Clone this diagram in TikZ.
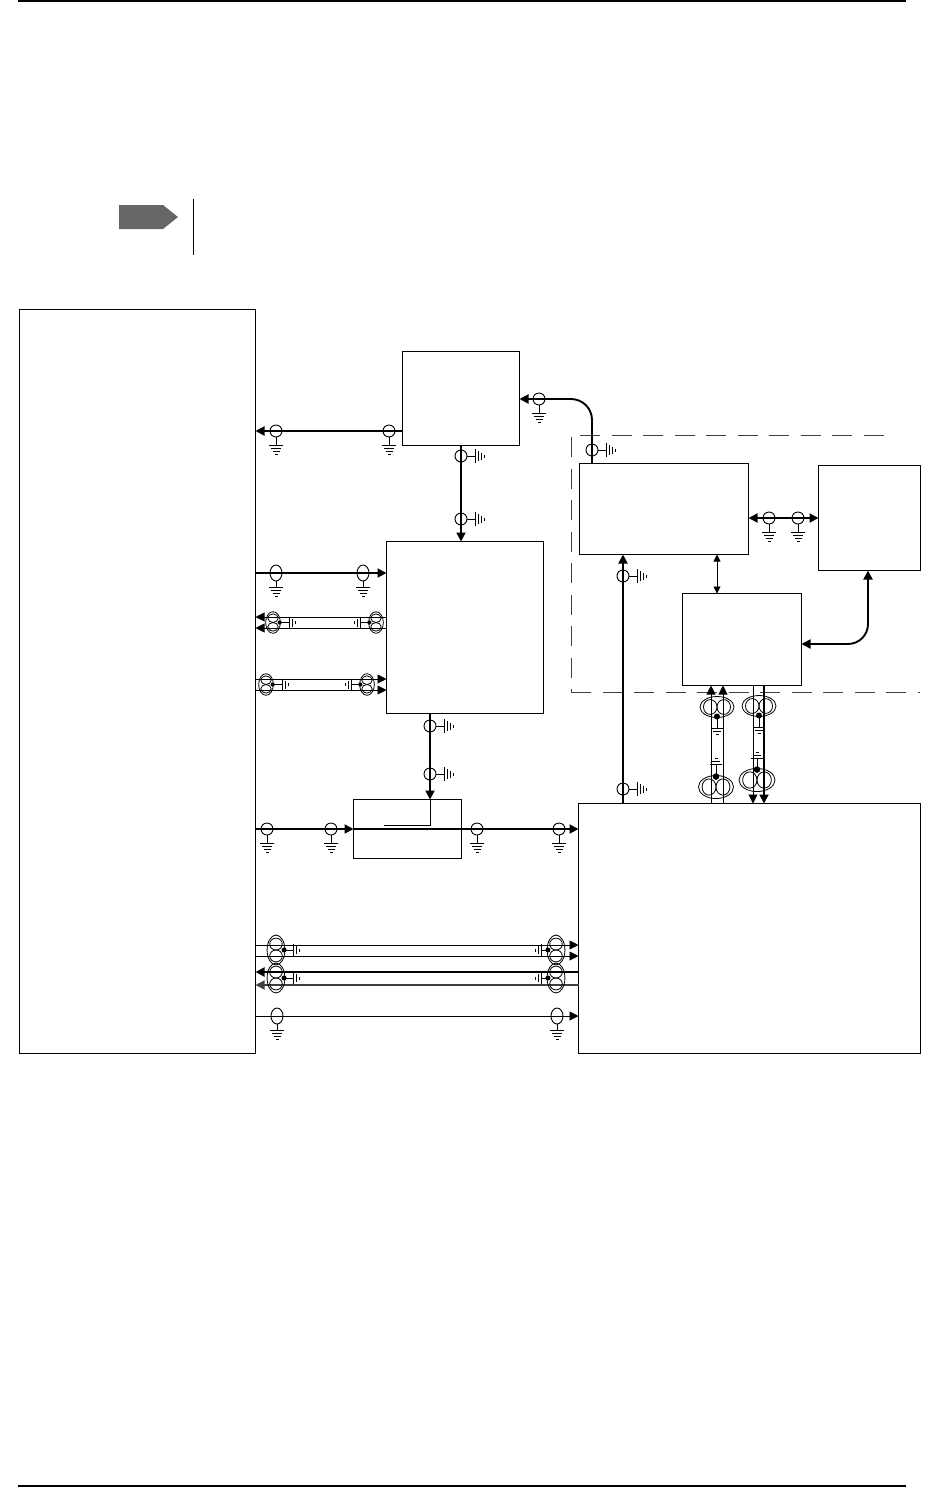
\documentclass[tikz,border=0pt]{standalone}
\usetikzlibrary{arrows.meta}

\tikzset{
  box/.style={draw, line width=1pt, anchor=north west, inner sep=0pt, outer sep=0pt, xshift=0.5pt, yshift=-0.5pt},
  wire/.style={line width=0.9pt},
  bus/.style={line width=1.9pt},
  dashline/.style={line width=1pt, color=black!75, dash pattern=on 20pt off 11.5pt},
  % ground bars, drawn from the end of a stem
  pics/coax/.style={code={
    \draw[line width=0.9pt] (0,0) ellipse (#1 and 6);
    \draw[line width=0.9pt] (#1,0) -- (14,0);
    \draw[line width=1pt] (14,-7) -- (14,7) (17,-5) -- (17,5) (20,-3.5) -- (20,3.5) (23,-1.5) -- (23,1.5);
  }},
  pics/coax/.default=6,
  pics/twin/.style n args={3}{code={
    \draw[line width=0.8pt] (0,0) ellipse (#1*1.05 and #2*1.03);
    \draw[line width=0.8pt] (0,#2*0.41) ellipse (#1*0.74 and #2*0.41);
    \draw[line width=0.8pt] (0,-#2*0.41) ellipse (#1*0.74 and #2*0.41);
    \fill (#1*0.95,0) circle (#1*0.3);
    \draw[line width=0.9pt] (#1,0) -- (#3,0);
    \draw[line width=1pt] (#3,-6) -- (#3,6) (#3+3,-4) -- (#3+3,4) (#3+6,-1.5) -- (#3+6,1.5);
  }}
}

\begin{document}
\begin{tikzpicture}[x=1pt, y=-1pt, >={Triangle[length=9pt,width=9pt]}]
\useasboundingbox (0,0) rectangle (932,1489);

% Page rules and note marker
\draw[line width=1.1pt] (18,1) -- (906,1);
\draw[line width=1.1pt] (18,1486) -- (906,1486);
\fill[black!60] (119,205) -- (163,205) -- (178,217) -- (163,229) -- (119,229) -- cycle;
\draw[line width=1pt] (193,199) -- (193,255);

% Define the boxes
\node[box, minimum width=236pt, minimum height=744pt] (host) at (19,309) {};
\node[box, minimum width=117pt, minimum height=94pt] (top) at (402,351) {};
\node[box, minimum width=157pt, minimum height=172pt] (mid) at (386,541) {};
\node[box, minimum width=108pt, minimum height=59pt] (small) at (353,799) {};
\node[box, minimum width=342pt, minimum height=250pt] (big) at (578,803) {};
\node[box, minimum width=169pt, minimum height=91pt] (unita) at (579,463) {};
\node[box, minimum width=102pt, minimum height=105pt] (unitb) at (818,465) {};
\node[box, minimum width=119pt, minimum height=92pt] (unitc) at (682,593) {};

% Dashed enclosure
\draw[dashline] (580,435) -- (888,435);
\draw[dashline] (571,437) -- (571,692);
\draw[dashline] (571,692) -- (920,692);

% Thick connectors
\draw[bus, ->] (top.west |- 0,431) -- (host.east |- 0,431);
\draw[bus, ->] (unita.north west -| 592,0) -- (592,420) to[out=90, in=0] (571,399) -- (top.east |- 0,399);
\draw[bus, ->] (top.south -| 461,0) -- (mid.north -| 461,0);
\draw[bus, ->] (host.east |- 0,573) -- (mid.west |- 0,573);
\draw[bus, ->] (mid.south -| 430,0) -- (small.north -| 430,0);
\draw[bus, ->] (host.east |- 0,829) -- (small.west |- 0,829);
\draw[bus, ->] (small.west |- 0,829) -- (big.west |- 0,829);
\draw[bus, ->] (big.north -| 623,0) -- (unita.south -| 623,0);
\draw[bus, <->] (unita.east |- 0,518) -- (unitb.west |- 0,518);
\draw[bus, <->] (unitc.east |- 0,644) -- (848,644) to[out=0, in=-90] (868,624) -- (unitb.south -| 868,0);
\draw[wire] (small.north -| 430,0) -- (430,825) -- (384,825);

% Thin connectors
\draw[wire, <->, >={Triangle[length=7pt,width=7pt]}] (unita.south -| 717,0) -- (unitc.north -| 717,0);
\foreach \py in {617,628} \draw[wire, ->] (mid.west |- 0,\py) -- (host.east |- 0,\py);
\foreach \py in {679,690} \draw[wire, ->] (host.east |- 0,\py) -- (mid.west |- 0,\py);
\foreach \py in {945,956} \draw[wire, ->] (host.east |- 0,\py) -- (big.west |- 0,\py);
\draw[bus, ->] (big.west |- 0,972) -- (host.east |- 0,972);
\draw[line width=1.5pt, black!75, ->] (big.west |- 0,985) -- (host.east |- 0,985);
\draw[wire, ->] (host.east |- 0,1016) -- (big.west |- 0,1016);
\foreach \px in {711,723} \draw[wire, ->] (big.north -| \px,0) -- (unitc.south -| \px,0);
\draw[wire, ->] (unitc.south -| 753,0) -- (big.north -| 753,0);
\draw[bus, ->] (unitc.south -| 764,0) -- (big.north -| 764,0);

% Coax marks, ground below
\foreach \cx/\cy in {276/431, 389/431, 539/399, 769/518, 798/518, 267/829, 331/829, 477/829, 559/829}
  \pic[rotate=-90] at (\cx,\cy) {coax};
\foreach \cx/\cy in {276/573, 363/573, 277/1016, 557/1016}
  \pic[rotate=-90] at (\cx,\cy) {coax=8};

% Coax marks, ground to the right
\foreach \cx/\cy in {461/456, 461/519, 592/450, 623/576, 623/789, 430/726, 430/774}
  \pic at (\cx,\cy) {coax};

% Twin marks on the pairs
\pic at (273,622.5) {twin={7}{10.5}{16}};
\pic[rotate=180] at (376,622.5) {twin={7}{10.5}{16}};
\pic at (266,684.5) {twin={7}{10.5}{16}};
\pic[rotate=180] at (367,684.5) {twin={7}{10.5}{16}};
\pic at (276,950) {twin={8.5}{14.5}{17}};
\pic at (276,978) {twin={8.5}{14.5}{17}};
\pic[rotate=180] at (556,950) {twin={8.5}{14.5}{15}};
\pic[rotate=180] at (556,978) {twin={8.5}{14.5}{15}};
\pic[rotate=-90] at (717,707) {twin={10}{16.5}{21}};
\pic[rotate=90] at (716,787) {twin={11}{17}{23}};
\pic[rotate=-90] at (759,706) {twin={10}{16.5}{21}};
\pic[rotate=90] at (757,780) {twin={11}{17.5}{22}};

\end{tikzpicture}
\end{document}
